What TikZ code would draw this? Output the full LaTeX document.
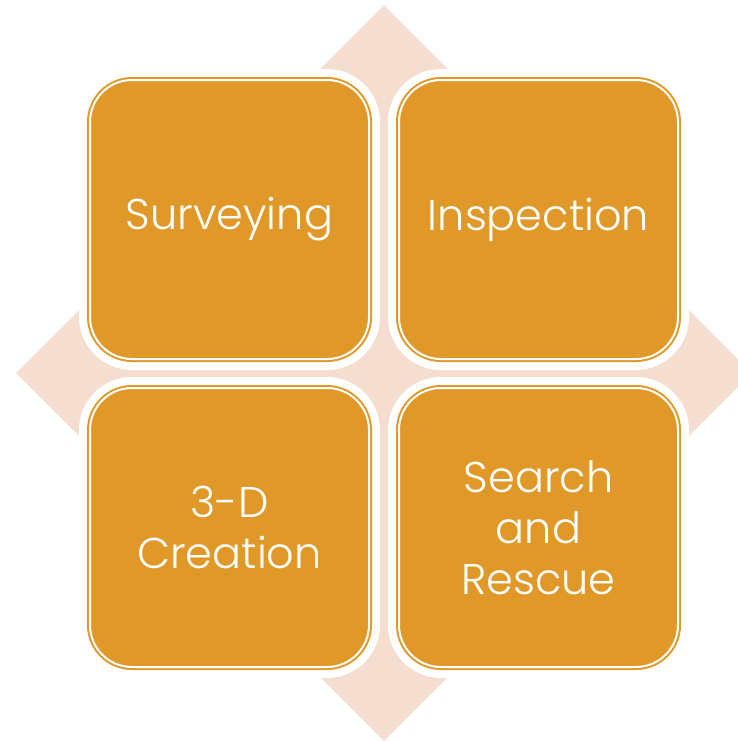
\documentclass[tikz,border=0pt]{standalone}
\usepackage{fontspec}
\setmainfont{Poppins Light}
\definecolor{cellorange}{RGB}{224,153,40}
\definecolor{peach}{RGB}{245,222,208}
\tikzset{
    cell/.style={rounded corners=21pt, minimum width=139.5pt, minimum height=139.5pt,
        outer sep=0pt, fill=cellorange, draw=cellorange, line width=1pt,
        double=white, double distance=1pt, text=white, align=center,
        font=\fontsize{21.5}{25.5}\selectfont,
        preaction={draw=white, line width=11pt}}
}
\begin{document}
\begin{tikzpicture}[x=0.5pt, y=-0.5pt]
        \useasboundingbox (0,0) rectangle (738,741);
        \fill[peach] (384,5) -- (752,373) -- (384,741) -- (16,373) -- cycle;
        \foreach \i/\j/\name/\txt in {0/0/surv/Surveying, 1/0/insp/Inspection,
                0/1/crea/{3-D\\Creation}, 1/1/sar/{Search\\and\\Rescue}} {
            \node[cell] (\name) at (229.5+309*\i, 219.5+308*\j) {\txt};
        }
    \end{tikzpicture}
\end{document}
